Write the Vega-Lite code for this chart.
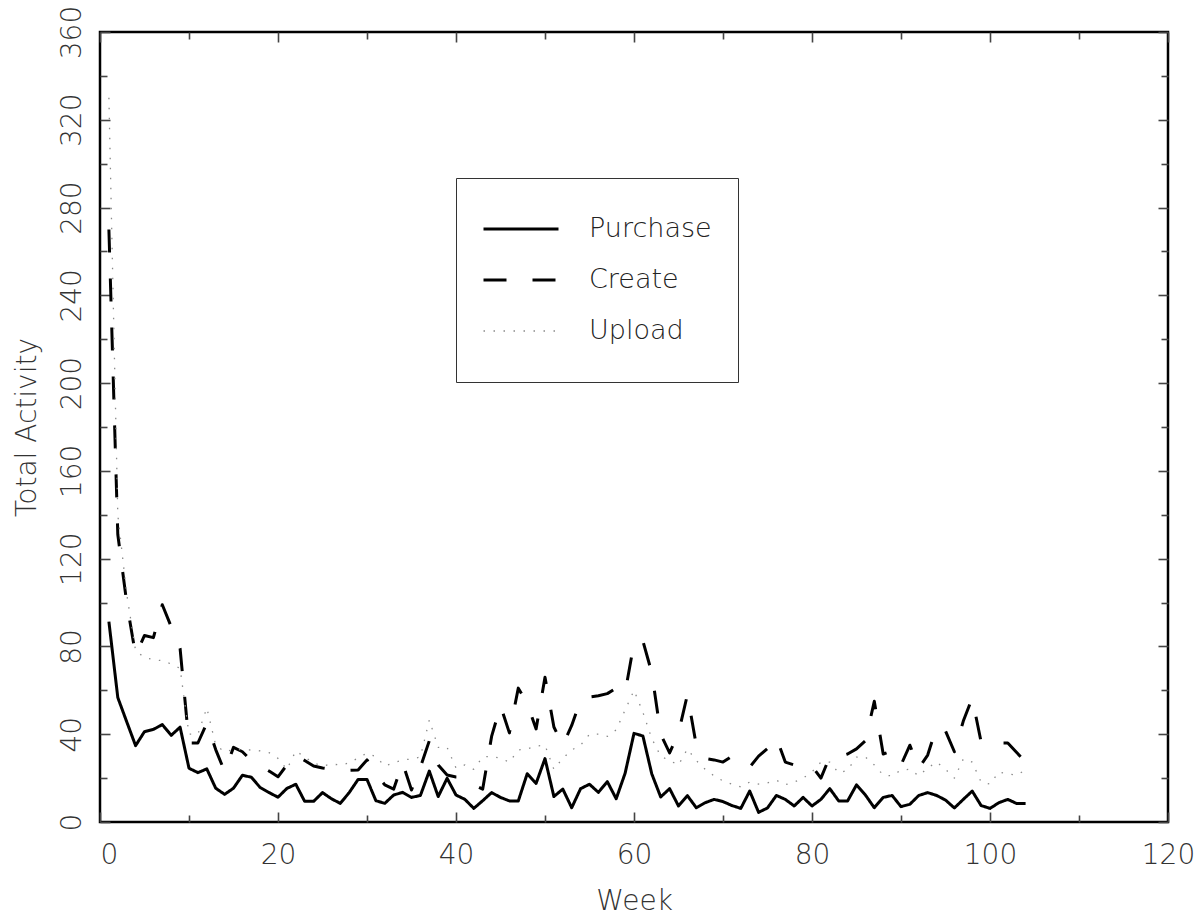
{
  "$schema": "https://vega.github.io/schema/vega-lite/v6.json",
  "width": 1068,
  "height": 790,
  "autosize": "none",
  "padding": {"left": 100, "top": 32, "right": 30, "bottom": 95},
  "background": "white",
  "config": {
    "view": {"stroke": "#000", "strokeWidth": 2.5},
    "font": "DejaVu Sans",
    "axis": {
      "labelFont": "DejaVu Sans",
      "labelFontWeight": 200,
      "labelColor": "#333",
      "titleFont": "DejaVu Sans",
      "titleFontWeight": 200,
      "titleColor": "#333",
      "tickColor": "#444",
      "tickWidth": 1.6,
      "domain": false,
      "grid": false,
      "labelOverlap": false
    },
    "legend": {
      "labelFont": "DejaVu Sans",
      "labelFontWeight": 200,
      "labelColor": "#222"
    }
  },
  "data": {
    "values": [
      {"week": 1, "Purchase": 91.3, "Create": 270, "Upload": 330},
      {"week": 2, "Purchase": 56.7, "Create": 131, "Upload": 140},
      {"week": 3, "Purchase": 45.7, "Create": 100, "Upload": 104},
      {"week": 4, "Purchase": 34.8, "Create": 76, "Upload": 78},
      {"week": 5, "Purchase": 41.2, "Create": 85, "Upload": 75},
      {"week": 6, "Purchase": 42.2, "Create": 84, "Upload": 74},
      {"week": 7, "Purchase": 44.4, "Create": 99, "Upload": 73.5},
      {"week": 8, "Purchase": 39.5, "Create": 89, "Upload": 72},
      {"week": 9, "Purchase": 43.2, "Create": 79, "Upload": 70},
      {"week": 10, "Purchase": 24.5, "Create": 36, "Upload": 40},
      {"week": 11, "Purchase": 22.5, "Create": 36, "Upload": 40},
      {"week": 12, "Purchase": 24.2, "Create": 45, "Upload": 52},
      {"week": 13, "Purchase": 15.4, "Create": 33, "Upload": 35},
      {"week": 14, "Purchase": 12.6, "Create": 23, "Upload": 32},
      {"week": 15, "Purchase": 15.4, "Create": 34, "Upload": 33},
      {"week": 16, "Purchase": 21.3, "Create": 32, "Upload": 33},
      {"week": 17, "Purchase": 20.4, "Create": 28, "Upload": 32.8},
      {"week": 18, "Purchase": 15.7, "Create": 25.5, "Upload": 32.4},
      {"week": 19, "Purchase": 13.4, "Create": 23.2, "Upload": 31.6},
      {"week": 20, "Purchase": 11.3, "Create": 20.6, "Upload": 29},
      {"week": 21, "Purchase": 15.3, "Create": 26, "Upload": 24},
      {"week": 22, "Purchase": 17.2, "Create": 30.5, "Upload": 32.4},
      {"week": 23, "Purchase": 9.4, "Create": 28, "Upload": 29.6},
      {"week": 24, "Purchase": 9.4, "Create": 25.5, "Upload": 26.9},
      {"week": 25, "Purchase": 13.4, "Create": 24.6, "Upload": 25.5},
      {"week": 26, "Purchase": 10.6, "Create": 24, "Upload": 26.4},
      {"week": 27, "Purchase": 8.5, "Create": 23.7, "Upload": 26},
      {"week": 28, "Purchase": 13.4, "Create": 23.5, "Upload": 26.9},
      {"week": 29, "Purchase": 19.4, "Create": 23.7, "Upload": 29.2},
      {"week": 30, "Purchase": 19.4, "Create": 28.3, "Upload": 31.4},
      {"week": 31, "Purchase": 9.7, "Create": 22, "Upload": 29.8},
      {"week": 32, "Purchase": 8.5, "Create": 16.9, "Upload": 25.5},
      {"week": 33, "Purchase": 12.3, "Create": 15, "Upload": 26.9},
      {"week": 34, "Purchase": 13.5, "Create": 27, "Upload": 28.3},
      {"week": 35, "Purchase": 11.2, "Create": 14.6, "Upload": 28.7},
      {"week": 36, "Purchase": 12.1, "Create": 25, "Upload": 29.6},
      {"week": 37, "Purchase": 23.2, "Create": 37, "Upload": 46.5},
      {"week": 38, "Purchase": 11.6, "Create": 26, "Upload": 34},
      {"week": 39, "Purchase": 19.9, "Create": 21.4, "Upload": 34},
      {"week": 40, "Purchase": 12.3, "Create": 20.5, "Upload": 24.6},
      {"week": 41, "Purchase": 10.3, "Create": 20.4, "Upload": 26},
      {"week": 42, "Purchase": 6.2, "Create": 17, "Upload": 24},
      {"week": 43, "Purchase": 9.7, "Create": 15, "Upload": 29.6},
      {"week": 44, "Purchase": 13.4, "Create": 39, "Upload": 30},
      {"week": 45, "Purchase": 11.2, "Create": 53, "Upload": 29},
      {"week": 46, "Purchase": 9.6, "Create": 40.6, "Upload": 27.3},
      {"week": 47, "Purchase": 9.6, "Create": 61, "Upload": 32.8},
      {"week": 48, "Purchase": 22.0, "Create": 54, "Upload": 33.3},
      {"week": 49, "Purchase": 17.6, "Create": 42.4, "Upload": 34.6},
      {"week": 50, "Purchase": 28.9, "Create": 66, "Upload": 35},
      {"week": 51, "Purchase": 11.6, "Create": 43.3, "Upload": 24},
      {"week": 52, "Purchase": 15.0, "Create": 35, "Upload": 29},
      {"week": 53, "Purchase": 6.5, "Create": 44, "Upload": 32.8},
      {"week": 54, "Purchase": 15.2, "Create": 55.6, "Upload": 35},
      {"week": 55, "Purchase": 17.2, "Create": 57, "Upload": 40},
      {"week": 56, "Purchase": 13.5, "Create": 57.5, "Upload": 40},
      {"week": 57, "Purchase": 18.4, "Create": 58.5, "Upload": 39},
      {"week": 58, "Purchase": 10.6, "Create": 61, "Upload": 42},
      {"week": 59, "Purchase": 22.2, "Create": 59, "Upload": 51},
      {"week": 60, "Purchase": 40.4, "Create": 81.5, "Upload": 60},
      {"week": 61, "Purchase": 39.2, "Create": 82.5, "Upload": 50},
      {"week": 62, "Purchase": 21.9, "Create": 68, "Upload": 38},
      {"week": 63, "Purchase": 11.4, "Create": 40, "Upload": 30},
      {"week": 64, "Purchase": 15.2, "Create": 31.5, "Upload": 28},
      {"week": 65, "Purchase": 7.3, "Create": 40.6, "Upload": 26},
      {"week": 66, "Purchase": 12.0, "Create": 58, "Upload": 33.3},
      {"week": 67, "Purchase": 6.5, "Create": 35, "Upload": 28},
      {"week": 68, "Purchase": 8.8, "Create": 29, "Upload": 24},
      {"week": 69, "Purchase": 10.3, "Create": 28.3, "Upload": 21},
      {"week": 70, "Purchase": 9.3, "Create": 27.3, "Upload": 18.7},
      {"week": 71, "Purchase": 7.5, "Create": 30, "Upload": 17.3},
      {"week": 72, "Purchase": 6.2, "Create": 27, "Upload": 16},
      {"week": 73, "Purchase": 14.1, "Create": 25, "Upload": 18.2},
      {"week": 74, "Purchase": 4.4, "Create": 30, "Upload": 17.3},
      {"week": 75, "Purchase": 6.4, "Create": 33.5, "Upload": 17.8},
      {"week": 76, "Purchase": 12.1, "Create": 38.5, "Upload": 19},
      {"week": 77, "Purchase": 10.3, "Create": 27.3, "Upload": 17},
      {"week": 78, "Purchase": 7.3, "Create": 26, "Upload": 18.2},
      {"week": 79, "Purchase": 11.2, "Create": 27, "Upload": 20},
      {"week": 80, "Purchase": 7.3, "Create": 25.5, "Upload": 22.8},
      {"week": 81, "Purchase": 10.3, "Create": 20, "Upload": 27.3},
      {"week": 82, "Purchase": 15.2, "Create": 29.8, "Upload": 27.3},
      {"week": 83, "Purchase": 9.6, "Create": 29.8, "Upload": 22.3},
      {"week": 84, "Purchase": 9.6, "Create": 31, "Upload": 23.7},
      {"week": 85, "Purchase": 16.9, "Create": 33.3, "Upload": 29.6},
      {"week": 86, "Purchase": 12.3, "Create": 37, "Upload": 29.6},
      {"week": 87, "Purchase": 6.5, "Create": 55, "Upload": 26},
      {"week": 88, "Purchase": 11.2, "Create": 31, "Upload": 21.4},
      {"week": 89, "Purchase": 12.1, "Create": 32.4, "Upload": 21},
      {"week": 90, "Purchase": 7.0, "Create": 26, "Upload": 23.7},
      {"week": 91, "Purchase": 8.1, "Create": 35, "Upload": 24},
      {"week": 92, "Purchase": 12.1, "Create": 24.6, "Upload": 21},
      {"week": 93, "Purchase": 13.4, "Create": 30.5, "Upload": 24.6},
      {"week": 94, "Purchase": 12.1, "Create": 43.3, "Upload": 27.3},
      {"week": 95, "Purchase": 10.0, "Create": 41.5, "Upload": 24},
      {"week": 96, "Purchase": 6.4, "Create": 32, "Upload": 20},
      {"week": 97, "Purchase": 10.3, "Create": 46, "Upload": 28.7},
      {"week": 98, "Purchase": 14.1, "Create": 56.5, "Upload": 27.3},
      {"week": 99, "Purchase": 7.5, "Create": 36.5, "Upload": 18.2},
      {"week": 100, "Purchase": 6.2, "Create": 35, "Upload": 17.3},
      {"week": 101, "Purchase": 8.8, "Create": 36, "Upload": 22.8},
      {"week": 102, "Purchase": 10.3, "Create": 36, "Upload": 21.9},
      {"week": 103, "Purchase": 8.4, "Create": 31.7, "Upload": 21.4},
      {"week": 104, "Purchase": 8.4, "Create": 27.3, "Upload": 23.7}
    ]
  },
  "transform": [
    {"fold": ["Purchase", "Create", "Upload"], "as": ["series", "value"]}
  ],
  "layer": [
    {
      "mark": {"type": "line", "strokeJoin": "round"},
      "encoding": {
        "x": {
          "field": "week",
          "type": "quantitative",
          "scale": {"domain": [0, 120], "nice": false, "zero": false},
          "axis": {
            "orient": "bottom",
            "values": [0, 10, 20, 30, 40, 50, 60, 70, 80, 90, 100, 110, 120],
            "labelExpr": "datum.value % 20 === 0 ? datum.label : ''",
            "tickSize": {"condition": {"test": "datum.value % 20 === 0", "value": -10}, "value": -7},
            "labelFontSize": 28,
            "labelPadding": 29,
            "labelFlush": false,
            "labelAlign": {"condition": {"test": "datum.value === 0", "value": "left"}, "value": "center"},
            "title": "Week",
            "titleFontSize": 28,
            "titleY": 79,
            "titleBaseline": "middle"
          }
        },
        "y": {
          "field": "value",
          "type": "quantitative",
          "scale": {"domain": [0, 360], "nice": false},
          "axis": {
            "orient": "left",
            "values": [0, 20, 40, 60, 80, 100, 120, 140, 160, 180, 200, 220, 240, 260, 280, 300, 320, 340, 360],
            "labelExpr": "datum.value % 40 === 0 ? datum.label : ''",
            "tickSize": {"condition": {"test": "datum.value % 40 === 0", "value": -10}, "value": -7},
            "labelFontSize": 28,
            "labelAngle": -90,
            "labelAlign": "center",
            "labelBaseline": "bottom",
            "labelPadding": 24,
            "title": "Total Activity",
            "titleFontSize": 28,
            "titleX": -73,
            "titleBaseline": "middle"
          }
        },
        "color": {
          "field": "series",
          "type": "nominal",
          "scale": {"domain": ["Purchase", "Create", "Upload"], "range": ["#000000", "#000000", "#8a8a8a"]},
          "legend": {
            "orient": "none", "legendX": 356, "legendY": 146, "title": null,
            "symbolType": "stroke", "symbolSize": 5625, "labelFontSize": 27, "labelOffset": 29,
            "padding": 26, "clipHeight": 50, "rowPadding": 1,
            "strokeColor": "#333", "fillColor": "#ffffff"
          }
        },
        "strokeDash": {
          "field": "series",
          "type": "nominal",
          "scale": {"domain": ["Purchase", "Create", "Upload"], "range": [[1, 0], [23, 26], [1.5, 8.5]]},
          "legend": {
            "orient": "none", "legendX": 356, "legendY": 146, "title": null,
            "symbolType": "stroke", "symbolSize": 5625, "labelFontSize": 27, "labelOffset": 29,
            "padding": 26, "clipHeight": 50, "rowPadding": 1,
            "strokeColor": "#333", "fillColor": "#ffffff"
          }
        },
        "strokeWidth": {
          "field": "series",
          "type": "nominal",
          "scale": {"type": "ordinal", "domain": ["Purchase", "Create", "Upload"], "range": [3, 3, 1.3]},
          "legend": {
            "orient": "none", "legendX": 356, "legendY": 146, "title": null,
            "symbolType": "stroke", "symbolSize": 5625, "labelFontSize": 27, "labelOffset": 29,
            "padding": 26, "clipHeight": 50, "rowPadding": 1,
            "strokeColor": "#333", "fillColor": "#ffffff"
          }
        }
      }
    },
    {
      "mark": {"type": "line", "opacity": 0},
      "encoding": {
        "x": {
          "field": "week",
          "type": "quantitative",
          "axis": {
            "orient": "top",
            "values": [0, 10, 20, 30, 40, 50, 60, 70, 80, 90, 100, 110, 120],
            "labels": false,
            "title": null,
            "tickSize": {"condition": {"test": "datum.value % 20 === 0", "value": -10}, "value": -7}
          }
        },
        "y": {
          "field": "value",
          "type": "quantitative",
          "axis": {
            "orient": "right",
            "values": [0, 20, 40, 60, 80, 100, 120, 140, 160, 180, 200, 220, 240, 260, 280, 300, 320, 340, 360],
            "labels": false,
            "title": null,
            "tickSize": {"condition": {"test": "datum.value % 40 === 0", "value": -10}, "value": -7}
          }
        },
        "detail": {"field": "series", "type": "nominal"}
      }
    }
  ],
  "resolve": {"axis": {"x": "independent", "y": "independent"}}
}
